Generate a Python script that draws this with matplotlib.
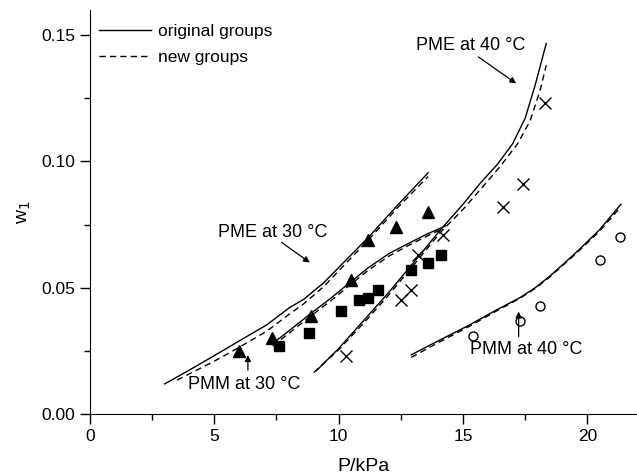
import matplotlib.pyplot as plt
from matplotlib.ticker import MultipleLocator

plt.rcParams['font.family'] = ['Liberation Sans', 'DejaVu Sans']

# experimental points
pme30_x = [6.0, 7.3, 8.9, 10.5, 11.2, 12.3, 13.6]
pme30_y = [0.025, 0.030, 0.039, 0.053, 0.069, 0.074, 0.080]
pmm30_x = [7.6, 8.8, 10.1, 10.8, 11.2, 11.6, 12.9, 13.6, 14.1]
pmm30_y = [0.027, 0.032, 0.041, 0.045, 0.046, 0.049, 0.057, 0.060, 0.063]
pme40_x = [10.3, 12.5, 12.9, 13.2, 14.2, 16.6, 17.4, 18.3]
pme40_y = [0.023, 0.045, 0.049, 0.063, 0.071, 0.082, 0.091, 0.123]
pmm40_x = [15.4, 17.3, 18.1, 20.5, 21.3]
pmm40_y = [0.031, 0.037, 0.043, 0.061, 0.070]

# model curves: original groups (solid) and new groups (dashed)
pme30_orig_x = [3.0, 4.0, 5.0, 6.0, 7.1, 8.0, 8.6, 9.4, 10.5, 11.2, 12.4, 13.6]
pme30_orig_y = [0.012, 0.0175, 0.0232, 0.029, 0.0353, 0.042, 0.0455, 0.052, 0.063, 0.070, 0.083, 0.0955]
pme30_new_x = [3.5, 4.0, 5.0, 6.0, 7.1, 8.0, 8.6, 9.4, 10.5, 11.2, 12.4, 13.6]
pme30_new_y = [0.0135, 0.016, 0.021, 0.0265, 0.0328, 0.0395, 0.0437, 0.0505, 0.0618, 0.069, 0.082, 0.094]

pmm30_orig_x = [7.35, 8.0, 8.9, 9.7, 10.44, 11.2, 12.05, 12.8, 13.5, 14.3]
pmm30_orig_y = [0.028, 0.033, 0.040, 0.046, 0.052, 0.058, 0.0637, 0.0675, 0.071, 0.0745]
pmm30_new_x = [7.35, 8.0, 8.9, 9.7, 10.44, 11.2, 12.05, 12.8, 13.5, 14.2]
pmm30_new_y = [0.027, 0.032, 0.039, 0.045, 0.051, 0.057, 0.0627, 0.0667, 0.0702, 0.0735]

pme40_orig_x = [9.1, 10.0, 11.0, 12.0, 13.1, 14.1, 15.0, 15.7, 16.4, 17.0, 17.5, 17.9, 18.35]
pme40_orig_y = [0.0172, 0.026, 0.037, 0.048, 0.061, 0.073, 0.083, 0.0914, 0.099, 0.107, 0.117, 0.130, 0.1466]
pme40_new_x = [9.0, 10.0, 11.0, 12.0, 13.1, 14.1, 15.0, 15.8, 16.5, 17.2, 17.7, 18.1, 18.35]
pme40_new_y = [0.0165, 0.0255, 0.036, 0.047, 0.060, 0.072, 0.081, 0.090, 0.098, 0.107, 0.116, 0.128, 0.138]

pmm40_orig_x = [12.92, 14.0, 15.26, 16.3, 17.27, 17.9, 18.47, 19.5, 20.48, 21.35]
pmm40_orig_y = [0.0235, 0.029, 0.0353, 0.041, 0.046, 0.050, 0.0544, 0.0635, 0.0728, 0.083]
pmm40_new_x = [12.92, 14.0, 15.26, 16.3, 17.27, 17.9, 18.47, 19.5, 20.48, 21.3]
pmm40_new_y = [0.0225, 0.0283, 0.0348, 0.0406, 0.0457, 0.0497, 0.0541, 0.0631, 0.0722, 0.0815]

fig = plt.figure(figsize=(6.37, 4.75), dpi=100)
ax = fig.add_axes([0.1413, 0.1278, 0.8587, 0.852])

solid = dict(color='black', lw=1.0, ls='-')
dash = dict(color='black', lw=1.0, ls=(0, (4.5, 3)))

ax.plot(pme30_orig_x, pme30_orig_y, label='original groups', **solid)
ax.plot(pme30_new_x, pme30_new_y, label='new groups', **dash)
ax.plot(pmm30_orig_x, pmm30_orig_y, **solid)
ax.plot(pmm30_new_x, pmm30_new_y, **dash)
ax.plot(pme40_orig_x, pme40_orig_y, **solid)
ax.plot(pme40_new_x, pme40_new_y, **dash)
ax.plot(pmm40_orig_x, pmm40_orig_y, **solid)
ax.plot(pmm40_new_x, pmm40_new_y, **dash)

ax.plot(pme30_x, pme30_y, '^', color='black', ms=8.5, ls='none')
ax.plot(pmm30_x, pmm30_y, 's', color='black', ms=6.5, ls='none')
ax.plot(pme40_x, pme40_y, 'x', color='black', ms=8, mew=1.0, ls='none')
ax.plot(pmm40_x, pmm40_y, 'o', mfc='none', mec='black', ms=6.5, mew=1.0, ls='none')

# labels and arrows
arrow = dict(arrowstyle='-|>', color='black', lw=0.9, mutation_scale=9, shrinkA=0, shrinkB=0)
fs = 13
ax.text(7.33, 0.072, 'PME at 30 °C', fontsize=fs, ha='center', va='center')
ax.annotate('', xy=(8.84, 0.060), xytext=(7.7, 0.068), arrowprops=arrow)
ax.text(6.22, 0.0116, 'PMM at 30 °C', fontsize=fs, ha='center', va='center')
ax.annotate('', xy=(6.35, 0.0234), xytext=(6.35, 0.0175), arrowprops=arrow)
ax.text(15.32, 0.146, 'PME at 40 °C', fontsize=fs, ha='center', va='center')
ax.annotate('', xy=(17.14, 0.1308), xytext=(15.62, 0.1413), arrowprops=arrow)
ax.text(17.54, 0.0257, 'PMM at 40 °C', fontsize=fs, ha='center', va='center')
ax.annotate('', xy=(17.24, 0.0406), xytext=(17.24, 0.0307), arrowprops=arrow)

ax.set_xlim(0, 22)
ax.set_ylim(0, 0.16)
ax.xaxis.set_major_locator(MultipleLocator(5))
ax.xaxis.set_minor_locator(MultipleLocator(2.5))
ax.yaxis.set_major_locator(MultipleLocator(0.05))
ax.yaxis.set_minor_locator(MultipleLocator(0.025))
ax.yaxis.set_major_formatter(plt.FormatStrFormatter('%.2f'))
ax.tick_params(which='major', direction='out', length=7, width=1, labelsize=12.5)
ax.tick_params(which='minor', direction='out', length=4, width=1)
for s in ['top', 'right']:
    ax.spines[s].set_visible(False)

ax.set_xlabel('P/kPa', fontsize=14)
ax.set_ylabel('w$_1$', fontsize=14)
ax.xaxis.set_label_coords(0.5, -0.108)
ax.yaxis.set_label_coords(-0.105, 0.5)

ax.legend(loc='upper left', bbox_to_anchor=(0.0, 0.985), frameon=False, fontsize=12.5,
          handlelength=3.0, borderpad=0.0, labelspacing=0.62, handletextpad=0.4)

fig.savefig('out.png', dpi=100)
